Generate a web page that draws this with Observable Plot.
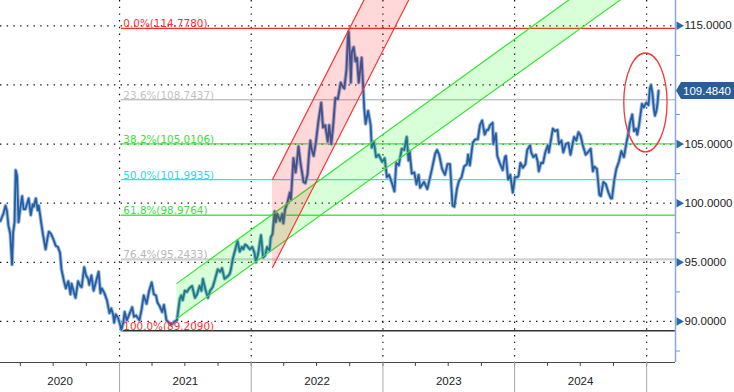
<!DOCTYPE html>
<html><head><meta charset="utf-8">
<script src="https://cdn.jsdelivr.net/npm/d3@7"></script>
<script src="https://cdn.jsdelivr.net/npm/@observablehq/plot@0.6"></script>
<style>body{margin:0;background:#fff}#chart svg{display:block}</style>
</head><body><div id="chart"></div>
<script>
const priceDates = [
"2020-02-06","2020-02-11","2020-02-14","2020-02-20","2020-02-24","2020-02-28","2020-03-04","2020-03-09","2020-03-12","2020-03-16","2020-03-19","2020-03-23","2020-03-27","2020-04-01","2020-04-06","2020-04-10","2020-04-15","2020-04-20","2020-04-24","2020-04-30","2020-05-05","2020-05-08","2020-05-14","2020-05-19","2020-05-22","2020-05-29","2020-06-03","2020-06-10","2020-06-15","2020-06-19","2020-06-25","2020-07-01","2020-07-08","2020-07-14","2020-07-20","2020-07-24","2020-07-31","2020-08-05","2020-08-12","2020-08-18","2020-08-21","2020-08-28","2020-09-01","2020-09-08","2020-09-14","2020-09-18","2020-09-25","2020-09-30","2020-10-06","2020-10-09","2020-10-15","2020-10-21","2020-10-28","2020-11-04","2020-11-09","2020-11-13","2020-11-20","2020-11-27","2020-12-04","2020-12-09","2020-12-14","2020-12-17","2020-12-21","2020-12-28",
"2021-01-01","2021-01-06","2021-01-12","2021-01-15","2021-01-21","2021-01-28","2021-02-05","2021-02-10","2021-02-16","2021-02-25","2021-03-03","2021-03-09","2021-03-17","2021-03-24","2021-03-31","2021-04-06","2021-04-12","2021-04-16","2021-04-22","2021-04-29","2021-05-04","2021-05-11","2021-05-18","2021-05-25","2021-06-02","2021-06-09","2021-06-17","2021-06-21","2021-06-25","2021-07-01","2021-07-07","2021-07-13","2021-07-21","2021-07-29","2021-08-04","2021-08-11","2021-08-16","2021-08-20","2021-08-27","2021-09-03","2021-09-09","2021-09-16","2021-09-22","2021-09-30","2021-10-07","2021-10-12","2021-10-19","2021-10-27","2021-11-02","2021-11-05","2021-11-11","2021-11-17","2021-11-24","2021-11-30","2021-12-06","2021-12-10","2021-12-15","2021-12-20","2021-12-28",
"2022-01-04","2022-01-10","2022-01-14","2022-01-20","2022-01-28","2022-02-03","2022-02-09","2022-02-14","2022-02-21","2022-02-24","2022-03-01","2022-03-07","2022-03-10","2022-03-14","2022-03-22","2022-03-28","2022-03-31","2022-04-05","2022-04-11","2022-04-18","2022-04-21","2022-04-28","2022-05-04","2022-05-09","2022-05-12","2022-05-18","2022-05-26","2022-05-31","2022-06-06","2022-06-10","2022-06-14","2022-06-17","2022-06-23","2022-06-29","2022-07-06","2022-07-14","2022-07-19","2022-07-25","2022-08-01","2022-08-05","2022-08-11","2022-08-16","2022-08-22","2022-08-29","2022-09-06","2022-09-13","2022-09-16","2022-09-22","2022-09-26","2022-09-28","2022-10-03","2022-10-04","2022-10-07","2022-10-12","2022-10-17","2022-10-21","2022-10-26","2022-11-03","2022-11-07","2022-11-10","2022-11-14","2022-11-21","2022-11-28","2022-12-01","2022-12-07","2022-12-13","2022-12-20","2022-12-30",
"2023-01-06","2023-01-12","2023-01-18","2023-01-26","2023-02-02","2023-02-07","2023-02-14","2023-02-22","2023-03-01","2023-03-08","2023-03-13","2023-03-16","2023-03-22","2023-03-29","2023-04-04","2023-04-10","2023-04-14","2023-04-25","2023-05-04","2023-05-11","2023-05-17","2023-05-26","2023-05-31","2023-06-06","2023-06-14","2023-06-22","2023-06-29","2023-07-06","2023-07-13","2023-07-18","2023-07-25","2023-07-31","2023-08-07","2023-08-14","2023-08-22","2023-08-25","2023-08-30","2023-09-07","2023-09-14","2023-09-21","2023-09-27","2023-10-03","2023-10-10","2023-10-16","2023-10-20","2023-10-25","2023-11-01","2023-11-03","2023-11-10","2023-11-14","2023-11-21","2023-11-29","2023-12-05","2023-12-08","2023-12-14","2023-12-20","2023-12-27",
"2024-01-02","2024-01-08","2024-01-12","2024-01-17","2024-01-24","2024-01-31","2024-02-05","2024-02-13","2024-02-16","2024-02-22","2024-02-29","2024-03-05","2024-03-08","2024-03-14","2024-03-20","2024-03-26","2024-04-02","2024-04-05","2024-04-10","2024-04-16","2024-04-22","2024-04-29","2024-05-03","2024-05-10","2024-05-15","2024-05-22","2024-05-29","2024-06-04","2024-06-11","2024-06-14","2024-06-20","2024-06-26","2024-07-02","2024-07-08","2024-07-16","2024-07-22","2024-07-30","2024-08-05","2024-08-09","2024-08-16","2024-08-23","2024-08-27","2024-09-03","2024-09-10","2024-09-17","2024-09-24","2024-09-27","2024-10-03","2024-10-09","2024-10-16","2024-10-23","2024-10-30","2024-11-06","2024-11-12","2024-11-15","2024-11-22","2024-11-27","2024-12-03","2024-12-06","2024-12-11","2024-12-19","2024-12-24","2024-12-31",
"2025-01-06","2025-01-10","2025-01-13","2025-01-17","2025-01-21","2025-01-24","2025-01-28","2025-01-31","2025-02-03"];
const priceValues = [
98.5,98.9,99.1,99.8,99.3,98.1,97.4,94.8,97.5,98.4,102.8,102.3,98.4,99.6,100.6,99.5,99.5,100.0,100.4,99.0,99.9,99.7,100.4,99.4,99.8,98.3,97.3,96.1,97.0,97.6,97.4,97.0,96.4,96.3,95.8,94.4,93.4,92.8,93.4,92.3,93.2,92.4,92.0,93.4,93.0,92.9,94.6,93.9,93.6,93.1,93.9,92.6,93.4,94.2,92.4,92.8,92.4,91.8,90.7,91.1,90.6,89.9,90.6,90.3,
89.9,89.3,90.0,90.8,90.1,90.6,91.2,90.4,90.5,90.1,91.0,92.2,91.5,92.6,93.3,92.3,92.2,91.6,91.3,90.8,91.4,90.1,89.9,89.7,90.0,90.1,91.9,92.2,91.8,92.6,92.5,92.8,93.0,92.0,92.3,93.0,92.6,93.6,92.7,92.0,92.6,92.9,93.5,94.4,94.2,94.5,93.6,93.8,94.0,94.3,95.3,96.0,96.8,95.9,96.3,96.1,96.5,96.4,96.1,
96.3,95.8,95.0,95.7,97.3,95.4,95.6,96.3,96.0,97.1,97.4,99.3,98.4,99.1,98.5,99.1,98.3,99.5,100.0,100.9,100.3,103.8,102.6,103.9,104.8,103.3,101.8,101.7,102.4,104.1,105.3,104.6,104.0,105.1,106.9,108.5,106.4,106.6,105.2,106.6,105.0,106.5,108.9,108.8,110.2,109.8,109.7,111.3,114.0,114.5,111.5,110.2,112.8,113.2,112.0,112.3,110.2,112.3,110.0,108.1,106.7,107.8,106.6,104.7,105.2,103.9,104.1,103.5,
103.8,102.2,102.4,101.7,101.0,103.4,103.2,104.6,104.5,105.6,103.6,104.4,102.5,102.6,101.6,102.4,101.3,101.8,101.2,102.1,102.9,104.2,104.5,104.1,102.9,102.4,103.3,103.3,99.8,99.7,101.2,101.9,102.2,103.1,103.3,104.1,103.2,105.1,105.4,105.4,106.6,107.0,105.8,106.2,106.2,106.6,106.8,105.0,105.9,104.0,103.4,102.8,103.9,104.0,102.0,102.4,100.9,
102.2,102.2,102.3,103.4,103.0,103.3,104.5,104.9,104.3,103.9,104.1,103.5,102.7,103.4,103.4,104.3,104.9,104.3,105.2,106.3,106.1,106.2,105.0,105.3,104.3,105.0,105.1,104.1,105.2,105.6,105.3,106.0,105.7,104.9,104.1,104.3,104.6,102.7,103.1,102.9,100.7,100.6,101.8,101.6,100.9,100.4,100.4,101.9,102.9,103.5,104.4,103.9,105.1,106.0,106.7,107.5,106.1,106.3,105.8,106.6,108.4,108.1,108.5,
108.3,109.7,110.0,109.3,108.0,107.4,107.8,108.4,109.5];

const fibPercents = ["0.0%","23.6%","38.2%","50.0%","61.8%","76.4%","100.0%"];
const fibValues = [114.778,108.7437,105.0106,101.9935,98.9764,95.2433,89.209];
const fibLineColors = ["#ff2b2b","#a9a9a9","#3ee63e","#25e8f2","#44ec44","#d0d0d0","#333333"];
const fibTextColors = ["#ff3030","#c2c2c2","#3edc3e","#2ad8ef","#3edc3e","#b8b8b8","#ff3030"];
const fibLineWidths = [1.2,1,1.3,1.4,1.5,2.2,1.5];
const fibStartDate = "2021-01-06";

const yGridTicks = [90,95,100,105,110,115];
const yLabelTicks = [90,95,100,105,115];
const yMinorTicks = [87.5,92.5,97.5,102.5,107.5,112.5];
const yearLabels = ["2020","2021","2022","2023","2024"];

const redChannelDates = ["2022-03-01","2023-05-12"];
const redChannelLow = [94.57,120.75];
const redChannelHigh = [102.01,128.15];
const greenChannelDates = ["2021-06-09","2024-12-15"];
const greenChannelLow = [90.26,118.42];
const greenChannelHigh = [93.22,121.57];

const lastPrice = 109.484;
const ellipseCenterDate = "2024-12-30";
const ellipseCenterValue = 108.48;
const ellipseRxDays = 60;
const ellipseRyValue = 4.18;

const xStart = new Date("2020-02-06"), xEnd = new Date("2025-03-22");
const yDomain = [86.53, 117.14];

const price = priceDates.map((d,i)=>({date:new Date(d), value:priceValues[i]}));
const fib = fibValues.map((v,i)=>({pct:fibPercents[i], value:v, start:new Date(fibStartDate)}));
const red = redChannelDates.map((d,i)=>({date:new Date(d), lo:redChannelLow[i], hi:redChannelHigh[i]}));
const green = greenChannelDates.map((d,i)=>({date:new Date(d), lo:greenChannelLow[i], hi:greenChannelHigh[i]}));
const yearStarts = [2021,2022,2023,2024,2025].map(y=>new Date(Date.UTC(y,0,1)));
const quarters = d3.utcMonth.every(3).range(xStart, xEnd);
const yearMids = yearLabels.map(lbl=>{
  const y=+lbl;
  const a=Math.max(+xStart, Date.UTC(y,0,1)), b=Math.min(+xEnd, Date.UTC(y+1,0,1));
  return {mid:new Date((a+b)/2), label:lbl};
});

const dash = "1.4,5.3";
const fibFont = "'DejaVu Sans', Verdana, sans-serif";
const chart = Plot.plot({
  width:734, height:392, marginLeft:0, marginRight:59, marginTop:0, marginBottom:30,
  x:{type:"utc", domain:[xStart,xEnd]},
  y:{domain:yDomain},
  style:{fontFamily:"'Liberation Sans', Arial, sans-serif", background:"#fff", overflow:"visible"},
  marks:[
    Plot.ruleY(yGridTicks,{stroke:"#111", strokeDasharray:dash, strokeWidth:1.2}),
    Plot.ruleX(yearStarts,{stroke:"#111", strokeDasharray:dash, strokeWidth:1.2}),
    ...fib.map((f,i)=>Plot.ruleY([f],{y:"value", x1:"start", x2:()=>xEnd, stroke:fibLineColors[i], strokeWidth:fibLineWidths[i]})),
    Plot.line(price,{x:"date", y:"value", stroke:"#9fbbe0", strokeWidth:3.8, clip:true}),
    Plot.line(price,{x:"date", y:"value", stroke:"#245ea0", strokeWidth:1.8, clip:true}),
    Plot.areaY(green,{x:"date", y1:"lo", y2:"hi", fill:"#00ff00", fillOpacity:0.15, clip:true}),
    Plot.line(green,{x:"date", y:"lo", stroke:"#33e633", strokeWidth:1.2, clip:true}),
    Plot.line(green,{x:"date", y:"hi", stroke:"#33e633", strokeWidth:1.2, clip:true}),
    Plot.areaY(red,{x:"date", y1:"lo", y2:"hi", fill:"#ff0000", fillOpacity:0.15, clip:true}),
    Plot.line(red,{x:"date", y:"lo", stroke:"#ff3333", strokeWidth:1.2, clip:true}),
    Plot.line(red,{x:"date", y:"hi", stroke:"#ff3333", strokeWidth:1.2, clip:true}),
    ...fib.map((f,i)=>Plot.text([f],{x:"start", y:"value", text:d=>`${d.pct}(${d.value.toFixed(4)})`, textAnchor:"start", lineAnchor:"bottom", dx:2, dy:-1, fill:fibTextColors[i], fontSize:10.4, fontFamily:fibFont})),
    Plot.ruleY([yDomain[0]],{stroke:"#4a4a4a", strokeWidth:1.2}),
    Plot.ruleX([xEnd],{stroke:"#86aadb", strokeWidth:1.5}),
    Plot.axisX(quarters,{tickSize:4, tickFormat:()=>"", stroke:"#444"}),
    Plot.axisX(yearStarts,{tickSize:30, tickFormat:()=>"", stroke:"#a8a8a8"}),
    Plot.text(yearMids,{x:"mid", text:"label", frameAnchor:"bottom", dy:22, fontSize:11.5, fill:"#222"}),
    Plot.axisY(yMinorTicks,{anchor:"right", tickSize:4, tickFormat:()=>"", stroke:"#6d97cc"}),
    Plot.dot(yLabelTicks,{y:d=>d, frameAnchor:"right", dx:3.5, symbol:"triangle", rotate:90, r:3.2, fill:"#2a67ab"}),
    Plot.text(yLabelTicks,{y:d=>d, text:d=>d.toFixed(4), frameAnchor:"right", dx:9, textAnchor:"start", fontSize:11.5, fill:"#222"})
  ]
});

const sx = chart.scale("x"), sy = chart.scale("y");
const svg = d3.select(chart);
const cd = new Date(ellipseCenterDate);
const cx = sx.apply(cd), cy = sy.apply(ellipseCenterValue);
const rx = sx.apply(new Date(+cd + ellipseRxDays*864e5)) - cx;
const ry = sy.apply(ellipseCenterValue - ellipseRyValue) - cy;
svg.append("ellipse").attr("cx",cx).attr("cy",cy).attr("rx",rx).attr("ry",ry)
  .attr("fill","none").attr("stroke","#f03a3a").attr("stroke-width",1.3);
const xr = sx.apply(xEnd), py = sy.apply(lastPrice);
const g = svg.append("g");
g.append("path").attr("d",`M${xr+1},${py} L${xr+6},${py-8.5} L734,${py-8.5} L734,${py+8.5} L${xr+6},${py+8.5} Z`).attr("fill","#2b5d97");
g.append("text").attr("x",xr+8).attr("y",py).attr("dy","0.36em").attr("fill","#fff").attr("text-anchor","start")
  .attr("font-size",11.5).attr("font-family","'Liberation Sans', Arial, sans-serif").text(lastPrice.toFixed(4));
document.getElementById("chart").append(chart);
</script></body></html>
